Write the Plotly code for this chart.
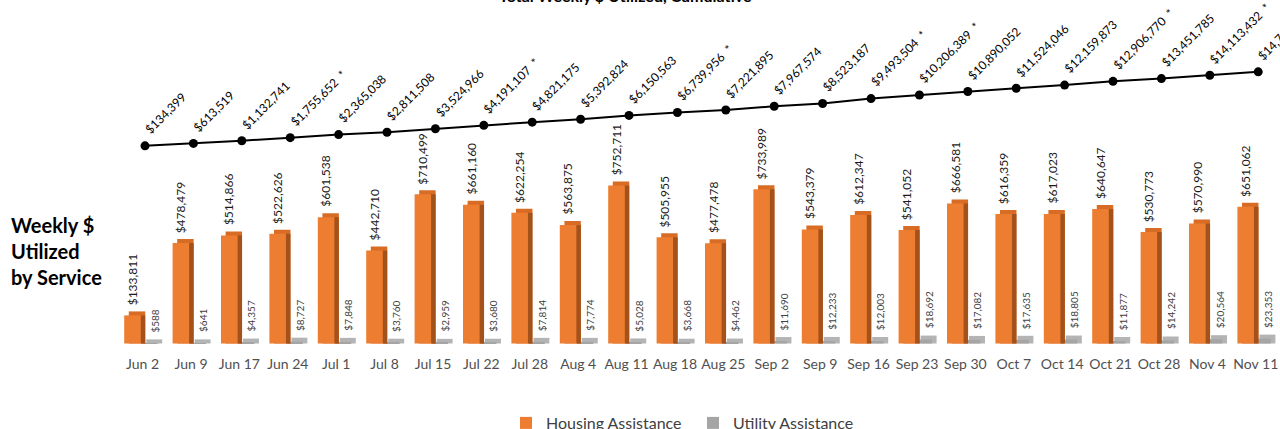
import plotly.graph_objects as go

# ---- data ----
weeks = ["Jun 2", "Jun 9", "Jun 17", "Jun 24", "Jul 1", "Jul 8", "Jul 15", "Jul 22",
         "Jul 28", "Aug 4", "Aug 11", "Aug 18", "Aug 25", "Sep 2", "Sep 9", "Sep 16",
         "Sep 23", "Sep 30", "Oct 7", "Oct 14", "Oct 21", "Oct 28", "Nov 4", "Nov 11"]

housing = [133811, 478479, 514866, 522626, 601538, 442710, 710499, 661160,
           622254, 563875, 752711, 505955, 477478, 733989, 543379, 612347,
           541052, 666581, 616359, 617023, 640647, 530773, 570990, 651062]

utility = [588, 641, 4357, 8727, 7848, 3760, 2959, 3680,
           7814, 7774, 5028, 3668, 4462, 11690, 12233, 12003,
           18692, 17082, 17635, 18805, 11877, 14242, 20564, 23353]

cumulative = [134399, 613519, 1132741, 1755652, 2365038, 2811508, 3524966, 4191107,
              4821175, 5392824, 6150563, 6739956, 7221895, 7967574, 8523187, 9493504,
              10206389, 10890052, 11524046, 12159873, 12906770, 13451785, 14113432, 14787846]

cum_notes = ["", "", "", "*", "", "", "", "*",
             "", "", "", "*", "", "", "", "*",
             "*", "", "", "", "*", "", "*", ""]

# ---- styling ----
W, H = 1280, 429
FONT = "Lato"
ORANGE = "#ED7D31"
ORANGE_TOP = "#D96C24"
ORANGE_SIDE = "#A3521C"
GREY_TOP = "#B4B4B4"
GREY = "#A5A5A5"

bar_range = [-407143, 1635714]
cum_range = [-55.94e6, 29.01e6]
x_range = [-2.996, 23.45]

# 3-D depth of each column, in pixels, converted to data units
depth_px = 4
depth = depth_px * (bar_range[1] - bar_range[0]) / H
dx = 0.095

h_off, h_w = -0.43, 0.34
u_off, u_w = -0.07, 0.33

idx = list(range(len(weeks)))

fig = go.Figure()

# Utility Assistance columns (back / top, then front)
fig.add_trace(go.Bar(x=idx, y=[u + depth for u in utility], base=0,
                     offset=u_off + dx, width=u_w, marker=dict(color=GREY_TOP, line_width=0),
                     showlegend=False, hoverinfo="skip"))
fig.add_trace(go.Bar(x=idx, y=utility, offset=u_off, width=u_w,
                     marker=dict(color=GREY, line_width=0),
                     name="Utility Assistance", legendrank=2))

# Housing Assistance columns (top face, side face, front face)
fig.add_trace(go.Bar(x=idx, y=[v + depth for v in housing], base=0,
                     offset=h_off + dx, width=h_w, marker=dict(color=ORANGE_TOP, line_width=0),
                     showlegend=False, hoverinfo="skip"))
fig.add_trace(go.Bar(x=idx, y=housing, base=0,
                     offset=h_off + h_w, width=dx, marker=dict(color=ORANGE_SIDE, line_width=0),
                     showlegend=False, hoverinfo="skip"))
fig.add_trace(go.Bar(x=idx, y=housing, offset=h_off, width=h_w,
                     marker=dict(color=ORANGE, line_width=0),
                     name="Housing Assistance", legendrank=1))

# Cumulative total line
fig.add_trace(go.Scatter(x=idx, y=cumulative, yaxis="y2", mode="lines+markers",
                         line=dict(color="black", width=2),
                         marker=dict(color="black", size=9),
                         showlegend=False))

annotations = []

# value labels on the housing columns
for i, v in zip(idx, housing):
    annotations.append(dict(x=i + h_off + h_w / 2, y=v, xref="x", yref="y",
                            text=f"${v:,}", textangle=-90, showarrow=False,
                            xanchor="center", yanchor="bottom", yshift=depth_px + 4,
                            font=dict(family=FONT, size=12, color="#1a1a1a")))

# value labels on the utility columns
for i, u in zip(idx, utility):
    annotations.append(dict(x=i + 0.2, y=u, xref="x", yref="y",
                            text=f"${u:,}", textangle=-90, showarrow=False,
                            xanchor="center", yanchor="bottom", yshift=depth_px + 5,
                            font=dict(family=FONT, size=10, color="#404040")))

# cumulative labels
for i, c, note in zip(idx, cumulative, cum_notes):
    label = f"${c:,}" + (f" &nbsp;{note}" if note else "")
    annotations.append(dict(x=i, y=c, xref="x", yref="y2",
                            text=label, textangle=-45, showarrow=False,
                            xanchor="left", yanchor="bottom", xshift=-6, yshift=6,
                            font=dict(family=FONT, size=12, color="black")))

# chart title and side caption
annotations.append(dict(x=625 / W, y=1, xref="paper", yref="paper",
                        text="<b>Total Weekly $ Utilized, Cumulative</b>", showarrow=False,
                        xanchor="center", yanchor="bottom", yshift=-7,
                        font=dict(family=FONT, size=16, color="black")))
annotations.append(dict(x=0, y=(H - 251) / H, xref="paper", yref="paper",
                        text="<b>Weekly $<br>Utilized<br>by Service</b>", showarrow=False,
                        xanchor="left", yanchor="middle", xshift=9, align="left",
                        font=dict(family=FONT, size=20, color="black")))

fig.update_layout(
    width=W, height=H,
    margin=dict(l=0, r=0, t=0, b=0, autoexpand=False),
    paper_bgcolor="white", plot_bgcolor="white",
    barmode="overlay",
    font=dict(family=FONT, color="#595959"),
    xaxis=dict(range=x_range, tickvals=[i - 0.05 for i in idx], ticktext=weeks,
               showgrid=False, zeroline=False, showline=False, ticks="",
               tickfont=dict(family=FONT, size=14, color="#505050"),
               anchor="free", position=(H - 354) / H, automargin=False),
    yaxis=dict(range=bar_range, visible=False, showgrid=False, zeroline=False),
    yaxis2=dict(range=cum_range, overlaying="y", visible=False, showgrid=False, zeroline=False),
    legend=dict(orientation="h", x=506 / W, xanchor="left", y=(H - 423) / H, yanchor="middle",
                font=dict(family=FONT, size=16, color="#404040"),
                entrywidth=142, entrywidthmode="pixels", bgcolor="rgba(0,0,0,0)"),
    annotations=annotations,
    showlegend=True,
)

fig.write_html("out.html")
